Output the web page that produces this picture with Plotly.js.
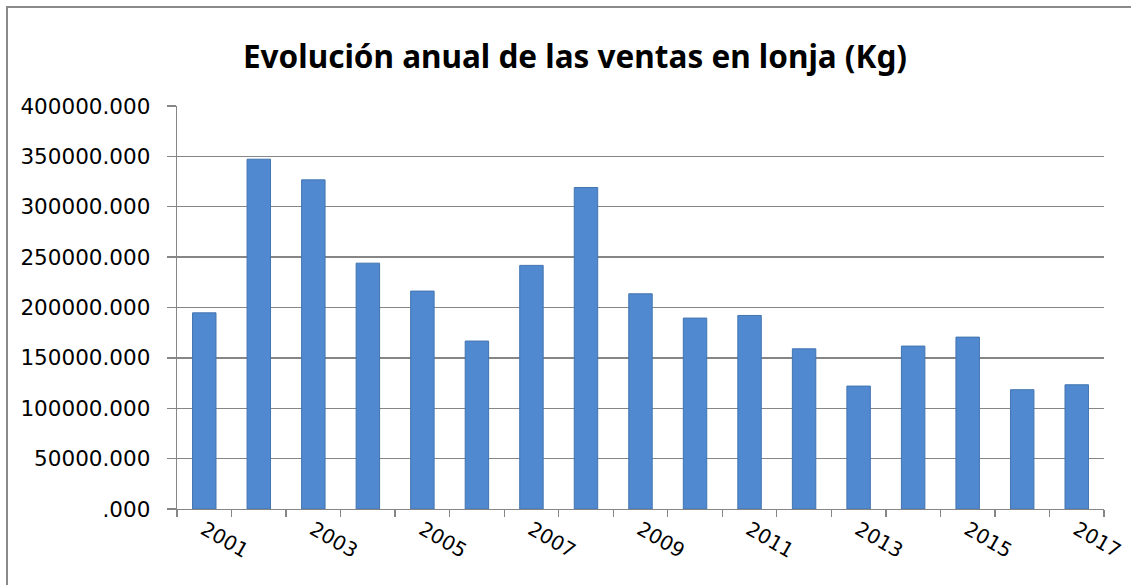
<!DOCTYPE html>
<html>
<head>
<meta charset="utf-8">
<script src="https://cdn.plot.ly/plotly-3.0.1.min.js"></script>
<style>
html,body{margin:0;padding:0;background:#fff;overflow:hidden;}
#chart{position:absolute;left:0;top:0;width:1131px;height:585px;}
#frame{position:absolute;left:6px;top:6px;width:1200px;height:700px;border:2px solid #8a8a8a;pointer-events:none;box-sizing:border-box;}
</style>
</head>
<body>
<div id="chart"></div>
<div id="frame"></div>
<script>
const years = ['2001','2002','2003','2004','2005','2006','2007','2008','2009','2010','2011','2012','2013','2014','2015','2016','2017'];
const ventas = [194700, 347200, 326700, 244000, 216300, 166700, 241800, 319100, 213600, 189500, 192100, 159000, 122000, 161700, 170600, 118400, 123300];
const xLabels = ['2001','','2003','','2005','','2007','','2009','','2011','','2013','','2015','','2017'];
const yTickVals = [0, 50000, 100000, 150000, 200000, 250000, 300000, 350000, 400000];
const yTickText = ['.000','50000.000','100000.000','150000.000','200000.000','250000.000','300000.000','350000.000','400000.000'];
const titleText = 'Evolución anual de las ventas en lonja (Kg)';

const trace = {
  type: 'bar',
  x: years,
  y: ventas,
  marker: {color: '#5089D0', line: {color: '#4274B0', width: 1}},
  hoverinfo: 'x+y'
};

const layout = {
  width: 1131, height: 585,
  margin: {l: 177, r: 27, t: 106, b: 76},
  paper_bgcolor: '#ffffff', plot_bgcolor: '#ffffff',
  showlegend: false,
  bargap: 0.57,
  title: {
    text: '<b>' + titleText + '</b>',
    font: {family: 'Noto Sans, DejaVu Sans, sans-serif', size: 31.5, color: '#000'},
    x: 575/1131, xref: 'container', xanchor: 'center',
    y: 1 - 57/585, yref: 'container', yanchor: 'middle'
  },
  xaxis: {
    type: 'category',
    tickmode: 'array',
    tickvals: years,
    ticktext: xLabels,
    tickson: 'boundaries',
    ticks: 'outside', ticklen: 7, tickcolor: '#868686', tickwidth: 1.3,
    tickangle: 30,
    tickfont: {family: 'DejaVu Sans, sans-serif', size: 20, color: '#000'},
    showline: true, linecolor: '#868686', linewidth: 1.3,
    showgrid: false, zeroline: false,
    fixedrange: true
  },
  yaxis: {
    range: [0, 400000],
    tickmode: 'array',
    tickvals: yTickVals,
    ticktext: yTickText,
    ticks: 'outside', ticklen: 9, tickcolor: '#868686', tickwidth: 1.3,
    ticklabelstandoff: 12,
    tickfont: {family: 'DejaVu Sans, sans-serif', size: 21.5, color: '#000'},
    showline: true, linecolor: '#868686', linewidth: 1.3,
    showgrid: true, gridcolor: '#868686', gridwidth: 1.3,
    zeroline: false,
    fixedrange: true
  }
};

Plotly.newPlot('chart', [trace], layout, {displayModeBar: false, staticPlot: true});
</script>
</body>
</html>
